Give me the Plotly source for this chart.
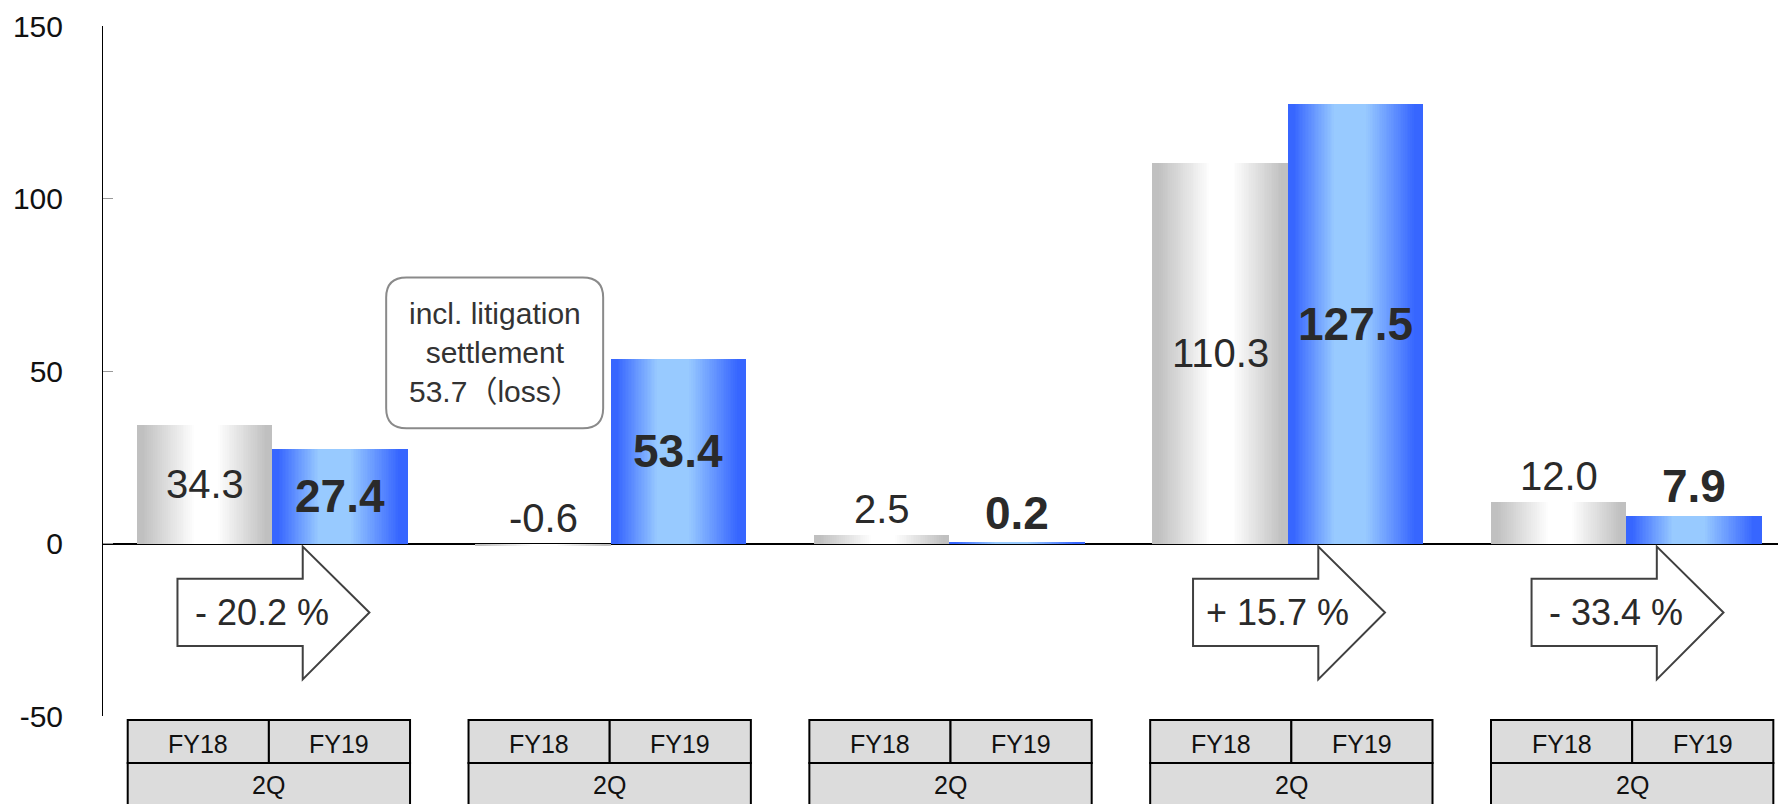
import plotly.graph_objects as go

# ---------------- data ----------------
quarter_labels = ["2Q", "2Q", "2Q", "2Q", "2Q"]
period_labels = ["FY18", "FY19"]
fy18_values = [34.3, -0.6, 2.5, 110.3, 12.0]
fy19_values = [27.4, 53.4, 0.2, 127.5, 7.9]
change_labels = ["- 20.2 %", None, None, "+ 15.7 %", "- 33.4 %"]
note_text = "incl. litigation<br>settlement<br>53.7（loss）"
note_group = 1
y_ticks = [-50, 0, 50, 100, 150]
y_tick_text = ["-50", "0", "50", "100", "150"]

FONT = "Liberation Sans, Arial, Noto Sans CJK JP, sans-serif"
positions = list(range(len(fy18_values)))
BAR_W = 0.4

fig = go.Figure()


def lerp(a, b, t):
    return tuple(round(a[i] + (b[i] - a[i]) * t) for i in range(3))


def gradient_bars(values, base_off, dark, light, l_start, l_end, r_start, r_end, n=28):
    # base (full width, dark)
    fig.add_trace(go.Bar(
        x=positions, y=values, width=[BAR_W] * len(values),
        offset=[base_off] * len(values),
        marker=dict(color="rgb(%d,%d,%d)" % dark, line=dict(width=0)),
        hoverinfo="skip", showlegend=False))
    for k in range(1, n + 1):
        s = (k - 1) / (n - 1)
        left = l_start + (l_end - l_start) * s
        right = r_start + (r_end - r_start) * s
        col = lerp(dark, light, k / n)
        fig.add_trace(go.Bar(
            x=positions, y=values,
            width=[(right - left) * BAR_W] * len(values),
            offset=[base_off + left * BAR_W] * len(values),
            marker=dict(color="rgb(%d,%d,%d)" % col, line=dict(width=0)),
            hoverinfo="skip", showlegend=False))


gradient_bars(fy18_values, -BAR_W, (192, 192, 192), (255, 255, 255), 0.05, 0.42, 0.95, 0.60)
gradient_bars(fy19_values, 0.0, (55, 102, 255), (152, 202, 255), 0.05, 0.34, 0.93, 0.58)

annotations = []
# value labels
for vals, xoff, bold in ((fy18_values, -BAR_W / 2, False), (fy19_values, BAR_W / 2, True)):
    for p, v in zip(positions, vals):
        txt = f"{v:.1f}"
        if bold:
            txt = "<b>" + txt + "</b>"
        inside = v > 20
        annotations.append(dict(
            x=p + xoff, y=(v / 2 if inside else max(v, 0)), xref="x", yref="y",
            text=txt, showarrow=False,
            yanchor="middle" if inside else "bottom",
            yshift=0 if inside else 2,
            font=dict(family=FONT, size=46 if bold else 40, color="#2a2a2a")))

shapes = []
# change arrows
for p, lab in zip(positions, change_labels):
    if lab is None:
        continue
    x0, xb, xt = p - 0.28, p + 0.09, p + 0.287
    yt, st, ym, sb, yb = -0.9, -10.2, -20.0, -29.7, -39.4
    path = (f"M {x0},{st} L {xb},{st} L {xb},{yt} L {xt},{ym} L {xb},{yb} "
            f"L {xb},{sb} L {x0},{sb} Z")
    shapes.append(dict(type="path", xref="x", yref="y", path=path,
                       fillcolor="white", line=dict(color="#404040", width=2),
                       layer="above"))
    annotations.append(dict(x=p - 0.03, y=ym, xref="x", yref="y", text=lab,
                            showarrow=False,
                            font=dict(family=FONT, size=36, color="#2a2a2a")))

# callout rounded box
cx = note_group - 0.343
hw = 0.3205
y0, y1 = 33.4, 77.1
rx, ry = 0.06, 5.8
xl, xr = cx - hw, cx + hw
rpath = (f"M {xl + rx},{y1} L {xr - rx},{y1} Q {xr},{y1} {xr},{y1 - ry} "
         f"L {xr},{y0 + ry} Q {xr},{y0} {xr - rx},{y0} "
         f"L {xl + rx},{y0} Q {xl},{y0} {xl},{y0 + ry} "
         f"L {xl},{y1 - ry} Q {xl},{y1} {xl + rx},{y1} Z")
shapes.append(dict(type="path", xref="x", yref="y", path=rpath,
                   fillcolor="white", line=dict(color="#8a8a8a", width=2)))
annotations.append(dict(x=cx, y=(y0 + y1) / 2, xref="x", yref="y",
                        text=note_text, showarrow=False, align="center",
                        font=dict(family=FONT, size=30, color="#333333")))

# category tables below the plot
TW = 0.417
T_STEP, T_OFF = 1.0068, -0.01
r_top, r_mid, r_bot = -0.0058, -0.068, -0.14
for p, q in zip(positions, quarter_labels):
    c = p * T_STEP + T_OFF
    for (a, b) in ((c - TW, c), (c, c + TW)):
        shapes.append(dict(type="rect", xref="x", yref="paper", x0=a, x1=b,
                           y0=r_mid, y1=r_top, fillcolor="#dcdcdc",
                           line=dict(color="black", width=2)))
    shapes.append(dict(type="rect", xref="x", yref="paper", x0=c - TW, x1=c + TW,
                       y0=r_bot, y1=r_mid, fillcolor="#dcdcdc",
                       line=dict(color="black", width=2)))
    for off, lab in zip((-TW / 2, TW / 2), period_labels):
        annotations.append(dict(x=c + off, y=-0.0405, xref="x", yref="paper",
                                text=lab, showarrow=False, yanchor="middle",
                                font=dict(family=FONT, size=25, color="#111111")))
    annotations.append(dict(x=c, y=-0.1, xref="x", yref="paper", text=q,
                            showarrow=False, yanchor="middle",
                            font=dict(family=FONT, size=25, color="#111111")))

fig.update_layout(
    width=1778, height=804,
    margin=dict(l=103, r=0, t=26, b=88),
    paper_bgcolor="white", plot_bgcolor="white",
    barmode="overlay", bargap=0,
    showlegend=False,
    shapes=shapes, annotations=annotations,
    font=dict(family=FONT),
    xaxis=dict(range=[-0.5, 4.448], showgrid=False, zeroline=False,
               showline=False, showticklabels=False, fixedrange=True),
    yaxis=dict(range=[-50, 150], tickvals=y_ticks, ticktext=y_tick_text,
               showgrid=False,
               showline=True, linecolor="black", linewidth=1,
               ticks="inside", ticklen=10, tickcolor="#999999",
               tickfont=dict(family=FONT, size=30, color="#111111"),
               ticklabelstandoff=33,
               zeroline=True, zerolinecolor="black", zerolinewidth=1.5,
               fixedrange=True),
)

fig.write_html("out.html")
